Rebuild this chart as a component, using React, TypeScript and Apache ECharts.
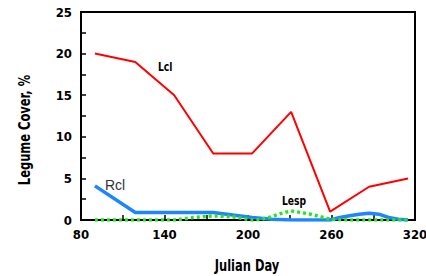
import React, { useEffect, useRef } from "react";
import * as echarts from "echarts";

const lclDays = [90, 119, 147, 175, 203, 231, 259, 287, 315];
const lclValues = [20, 19, 15, 8, 8, 13, 1, 4, 5];

const rclDays = [90, 119, 147, 175, 203, 217, 231, 245, 259, 266, 273, 280, 287, 294, 301, 308, 315];
const rclValues = [4.1, 0.9, 0.9, 0.9, 0.3, 0.1, 0, 0, 0, 0.3, 0.5, 0.7, 0.8, 0.7, 0.3, 0.1, 0];

const lespDays = [90, 105, 119, 133, 147, 161, 175, 189, 203, 210, 217, 224, 231, 238, 245, 252, 259, 273, 287, 301, 315];
const lespValues = [0, 0, 0, 0, 0, 0.3, 0.5, 0.4, 0, 0.1, 0.4, 0.8, 1.1, 0.9, 0.7, 0.4, 0.1, 0, 0, 0, 0];

const xTickValues = [80, 110, 140, 170, 200, 230, 260, 290, 320];
const xTickLabels = [80, 140, 200, 260, 320];
const yTickLabels = [0, 5, 10, 15, 20, 25];

const FONT = "'Liberation Sans Narrow', 'DejaVu Sans Condensed', 'Liberation Sans', sans-serif";

const pair = (xs: number[], ys: number[]) => xs.map((x, i) => [x, ys[i]]);

export default function App() {
  const ref = useRef<HTMLDivElement>(null);
  useEffect(() => {
    if (!ref.current) return;
    const chart = echarts.init(ref.current, undefined, { renderer: "svg" });
    chart.setOption({
      animation: false,
      backgroundColor: "#fff",
      grid: {
        left: 81,
        right: 11,
        top: 12,
        bottom: 56,
        outerBoundsMode: "none",
        containLabel: false,
        show: true,
        borderColor: "#000",
        borderWidth: 2,
        backgroundColor: "transparent",
      },
      xAxis: {
        type: "value",
        min: 80,
        max: 320,
        axisLine: { show: true, lineStyle: { color: "#000", width: 2 } },
        axisTick: {
          show: true,
          inside: true,
          length: 5,
          customValues: xTickValues,
          lineStyle: { color: "#000", width: 1.5 },
        },
        splitLine: { show: false },
        axisLabel: {
          color: "#000",
          fontFamily: FONT,
          fontWeight: "bold",
          fontSize: 13,
          margin: 8,
          customValues: xTickLabels,
          formatter: (v: number) => String(v),
        },
      },
      yAxis: {
        type: "value",
        min: 0,
        max: 25,
        interval: 2.5,
        axisLine: { show: true, lineStyle: { color: "#000", width: 2 } },
        axisTick: { show: true, inside: true, length: 5, lineStyle: { color: "#000", width: 1.5 } },
        splitLine: { show: false },
        axisLabel: {
          color: "#000",
          fontFamily: FONT,
          fontWeight: "bold",
          fontSize: 13,
          margin: 9,
          formatter: (v: number) => (yTickLabels.includes(v) ? String(v) : ""),
        },
      },
      series: [
        {
          name: "Rcl",
          type: "line",
          data: pair(rclDays, rclValues),
          symbol: "none",
          lineStyle: { color: "#1e84ff", width: 3.5 },
          z: 2,
        },
        {
          name: "Lesp",
          type: "line",
          data: pair(lespDays, lespValues),
          symbol: "none",
          lineStyle: { color: "#22e622", width: 3.5, type: [3, 3] },
          z: 3,
        },
        {
          name: "Lcl",
          type: "line",
          data: pair(lclDays, lclValues),
          symbol: "none",
          lineStyle: { color: "#ff0000", width: 2 },
          z: 4,
        },
      ],
      graphic: [
        {
          type: "text",
          x: 25,
          y: 130,
          rotation: Math.PI / 2,
          scaleX: 0.85,
          style: {
            text: "Legume Cover, %",
            fill: "#000",
            font: `bold 15px ${FONT}`,
            align: "center",
            verticalAlign: "middle",
          },
        },
        {
          type: "text",
          x: 247,
          y: 266,
          scaleX: 0.85,
          style: {
            text: "Julian Day",
            fill: "#000",
            font: `bold 15px ${FONT}`,
            align: "center",
            verticalAlign: "middle",
          },
        },
        {
          type: "text",
          x: 105,
          y: 185,
          style: { text: "Rcl", fill: "#333", font: `14px 'Liberation Sans', sans-serif`, align: "left", verticalAlign: "middle" },
        },
        {
          type: "text",
          x: 158,
          y: 67,
          scaleX: 0.85,
          style: { text: "Lcl", fill: "#000", font: `bold 12px ${FONT}`, align: "left", verticalAlign: "middle" },
        },
        {
          type: "text",
          x: 282,
          y: 201,
          scaleX: 0.85,
          style: { text: "Lesp", fill: "#000", font: `bold 12px ${FONT}`, align: "left", verticalAlign: "middle" },
        },
      ],
    });
    return () => chart.dispose();
  }, []);
  return <div ref={ref} style={{ width: 426, height: 276, position: "absolute", left: 0, top: 0 }} />;
}
